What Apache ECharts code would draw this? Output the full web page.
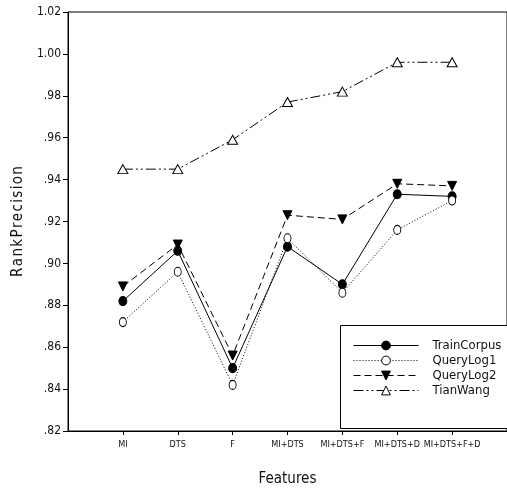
<!DOCTYPE html>
<html>
<head>
<meta charset="utf-8">
<script src="https://cdn.jsdelivr.net/npm/echarts@6/dist/echarts.min.js"></script>
<style>html,body{margin:0;padding:0;background:#fff}#c{width:507px;height:495px}</style>
</head>
<body>
<div id="c"></div>
<script>
var categories = ['MI', 'DTS', 'F', 'MI+DTS', 'MI+DTS+F', 'MI+DTS+D', 'MI+DTS+F+D'];
var trainCorpus = [0.882, 0.906, 0.850, 0.908, 0.890, 0.933, 0.932];
var queryLog1   = [0.872, 0.896, 0.842, 0.912, 0.886, 0.916, 0.930];
var queryLog2   = [0.889, 0.909, 0.856, 0.923, 0.921, 0.938, 0.937];
var tianWang    = [0.945, 0.945, 0.959, 0.977, 0.982, 0.996, 0.996];
var yTicks = [0.82, 0.84, 0.86, 0.88, 0.90, 0.92, 0.94, 0.96, 0.98, 1.00, 1.02];

var FONT = '"Liberation Sans Narrow", "DejaVu Sans Condensed", "Liberation Sans", sans-serif';

function pts(arr) { return arr.map(function (v, i) { return [i + 1, v]; }); }
var catPos = categories.map(function (c, i) { return i + 1; });

var chart = echarts.init(document.getElementById('c'), null, { renderer: 'canvas' });

function mk(name, data, symbol, size, dash, fill) {
  return {
    name: name, type: 'line', data: pts(data),
    symbol: symbol, symbolSize: size,
    lineStyle: { color: '#000', width: 1, type: dash },
    itemStyle: { color: fill, borderColor: '#000', borderWidth: 1 },
    emphasis: { disabled: true },
    animation: false, z: 2
  };
}

chart.setOption({
  animation: false,
  backgroundColor: '#fff',
  textStyle: { fontFamily: FONT },
  grid: { left: 68, top: 12, bottom: 64, right: -3, show: true, borderColor: '#000', borderWidth: 1, backgroundColor: 'transparent' },
  xAxis: {
    type: 'value', min: 0, max: 8, interval: 1,
    axisLine: { show: true, lineStyle: { color: '#000', width: 1 } },
    axisTick: { show: true, length: 4, lineStyle: { color: '#000' }, customValues: catPos },
    splitLine: { show: false },
    axisLabel: {
      customValues: catPos, color: '#111', fontSize: 9, fontFamily: FONT, margin: 9,
      hideOverlap: false, interval: 0,
      formatter: function (v) { return categories[Math.round(v) - 1] || ''; }
    },
    name: 'Features', nameLocation: 'middle', nameGap: 41,
    nameTextStyle: { fontSize: 15, color: '#111', fontFamily: FONT }
  },
  yAxis: {
    type: 'value', min: 0.82, max: 1.02, interval: 0.02,
    axisLine: { show: true, lineStyle: { color: '#000', width: 1 } },
    axisTick: { show: true, length: 5, lineStyle: { color: '#000' } },
    splitLine: { show: false },
    axisLabel: {
      color: '#111', fontSize: 12, fontFamily: FONT, margin: 7,
      formatter: function (v) { var s = v.toFixed(2); return v < 1 ? s.substring(1) : s; }
    },
    name: 'R\u200Aa\u200An\u200Ak\u200AP\u200Ar\u200Ae\u200Ac\u200Ai\u200As\u200Ai\u200Ao\u200An',
    nameLocation: 'middle', nameGap: 40,
    nameTextStyle: { fontSize: 15, color: '#111', fontFamily: FONT }
  },
  graphic: [{
    type: 'rect', z: 3,
    shape: { x: 340.5, y: 325.5, width: 200, height: 103 },
    style: { fill: '#fff', stroke: '#000', lineWidth: 1 }
  }],
  legend: {
    orient: 'vertical', left: 348, top: 333, z: 5,
    itemWidth: 65, itemHeight: 11, itemGap: 0,
    lineStyle: { width: 1 },
    itemStyle: { borderWidth: 1 },
    textStyle: { fontSize: 13, color: '#111', fontFamily: FONT, padding: [0, 0, 0, 9], lineHeight: 15 },
    data: ['TrainCorpus', 'QueryLog1', 'QueryLog2', 'TianWang']
  },
  series: [
    mk('TrainCorpus', trainCorpus, 'circle', [8, 9], 'solid', '#000'),
    mk('QueryLog1', queryLog1, 'circle', [7, 9], [1, 2], '#fff'),
    mk('QueryLog2', queryLog2, 'path://M0,0 L10,0 L5,10 Z', [9, 9], [7, 4], '#000'),
    mk('TianWang', tianWang, 'triangle', [10, 9], [10, 3, 2, 3, 2, 3], '#fff')
  ]
});
</script>
</body>
</html>
